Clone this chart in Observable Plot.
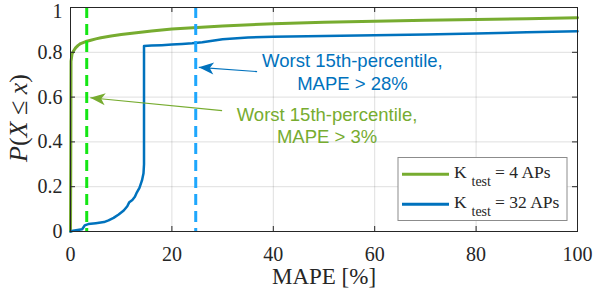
<!DOCTYPE html>
<html><head><meta charset="utf-8">
<script src="https://cdn.jsdelivr.net/npm/d3@7"></script>
<script src="https://cdn.jsdelivr.net/npm/@observablehq/plot@0.6"></script>
<style>body{margin:0;background:#fff} #chart{width:593px;height:292px}</style>
</head><body><div id="chart"></div>
<script>
// ---- data ----
const k4X = [0, 0.05, 0.1, 0.3, 0.6, 1, 1.5, 2, 3, 4, 5, 6, 8, 10, 13, 16, 20, 25, 30, 40, 50, 60, 70, 80, 90, 100];
const k4Y = [0, 0.3, 0.76, 0.792, 0.806, 0.82, 0.831, 0.839, 0.848, 0.854, 0.86, 0.865, 0.873, 0.879, 0.887, 0.895, 0.904, 0.911, 0.917, 0.928, 0.934, 0.939, 0.943, 0.946, 0.95, 0.954];
const k32X = [0, 0.5, 2.3, 2.8, 3.5, 5, 6.6, 7.5, 8.5, 9.5, 10.5, 11.2, 11.6, 12.2, 12.7, 13.1, 13.6, 14.1, 14.4, 14.5, 14.5, 16, 18, 20, 22, 24, 26, 28, 30, 35, 40, 50, 60, 70, 80, 90, 100];
const k32Y = [0, 0.003, 0.01, 0.027, 0.033, 0.037, 0.042, 0.05, 0.061, 0.076, 0.094, 0.113, 0.131, 0.141, 0.155, 0.175, 0.195, 0.228, 0.26, 0.3, 0.828, 0.83, 0.832, 0.835, 0.837, 0.84, 0.845, 0.852, 0.858, 0.866, 0.869, 0.873, 0.876, 0.879, 0.884, 0.889, 0.894];
const xTicks = [0, 20, 40, 60, 80, 100];
const yTicks = [0, 0.2, 0.4, 0.6, 0.8, 1];
const seriesK = ["4", "32"];
const thresholdX = [3.2, 24.7];
const annoText = ["Worst 15th-percentile,\nMAPE > 28%", "Worst 15th-percentile,\nMAPE > 3%"];
const annoX = [55.6, 50.6];
const annoY = [0.716, 0.477];
const arrowTailX = [36.8, 29.9];
const arrowTailY = [0.714, 0.54];
const arrowTipX = [25.3, 3.9];
const arrowTipY = [0.733, 0.597];
const xLabel = "MAPE [%]";

// ---- styles ----
const GREEN = "#77AC30", BLUE = "#0072BD";
const GREEN_DASH = "#14e614", BLUE_DASH = "#1ea7fd";
const AXIS = "#262626";
const W = 593, H = 292, mL = 70, mR = 16, mT = 7, mB = 61;
const innerW = W - mL - mR, innerH = H - mT - mB;
const serif = "'Liberation Serif','Times New Roman',serif";
const sans = "'Liberation Sans',Arial,sans-serif";

const k4 = k4X.map((x, i) => ({x, y: k4Y[i]}));
const k32 = k32X.map((x, i) => ({x, y: k32Y[i]}));
const annos = annoText.map((t, i) => ({t, x: annoX[i], y: annoY[i], c: i === 0 ? BLUE : GREEN}));
const arrows = arrowTipX.map((_, i) => {
  const dx = (arrowTipX[i] - arrowTailX[i]) * innerW / 100;
  const dy = -(arrowTipY[i] - arrowTailY[i]) * innerH;
  return {x1: arrowTailX[i], y1: arrowTailY[i], x2: arrowTipX[i], y2: arrowTipY[i],
          c: i === 0 ? BLUE : GREEN, rot: Math.atan2(dx, -dy) * 180 / Math.PI};
});
const headSymbol = {draw(ctx) {
  ctx.moveTo(0, 0); ctx.lineTo(6, 15); ctx.lineTo(0, 11); ctx.lineTo(-6, 15); ctx.closePath();
}};

const plot = Plot.plot({
  width: W, height: H, marginLeft: mL, marginRight: mR, marginTop: mT, marginBottom: mB,
  style: {fontFamily: serif, fontSize: "20px", color: AXIS, background: "#fff"},
  x: {domain: [0, 100], label: null},
  y: {domain: [0, 1], label: null},
  marks: [
    Plot.gridX(xTicks, {stroke: AXIS, strokeOpacity: 0.15}),
    Plot.gridY(yTicks, {stroke: AXIS, strokeOpacity: 0.15}),
    Plot.axisX(xTicks, {tickSize: 0, tickPadding: 15, label: null, fill: AXIS}),
    Plot.axisY(yTicks.slice(0, -1), {tickSize: 0, tickPadding: 8, label: null, fill: AXIS, tickFormat: d => String(d)}),
    Plot.axisY(yTicks.slice(-1), {tickSize: 0, tickPadding: 8, label: null, fill: AXIS, dy: 4, tickFormat: d => String(d)}),
    Plot.line(k4, {x: "x", y: "y", stroke: GREEN, strokeWidth: 3}),
    Plot.line(k32, {x: "x", y: "y", stroke: BLUE, strokeWidth: 2.5}),
    Plot.ruleX([thresholdX[0]], {stroke: GREEN_DASH, strokeWidth: 3, strokeDasharray: "11,6"}),
    Plot.ruleX([thresholdX[1]], {stroke: BLUE_DASH, strokeWidth: 3, strokeDasharray: "11,6"}),
    Plot.link(arrows, {x1: "x1", y1: "y1", x2: "x2", y2: "y2", stroke: "c", strokeWidth: 1.2}),
    Plot.dot(arrows, {x: "x2", y: "y2", fill: "c", stroke: null, r: 5, symbol: headSymbol, rotate: "rot"}),
    Plot.text(annos, {x: "x", y: "y", text: "t", fill: "c", fontFamily: sans, fontSize: 18.5, lineHeight: 1.243}),
    Plot.frame({stroke: AXIS}),
    Plot.tickX(xTicks, {x: d => d, insetTop: innerH - 5, stroke: AXIS}),
    Plot.tickX(xTicks, {x: d => d, insetBottom: innerH - 5, stroke: AXIS}),
    Plot.tickY(yTicks, {y: d => d, insetRight: innerW - 5, stroke: AXIS}),
    Plot.tickY(yTicks, {y: d => d, insetLeft: innerW - 5, stroke: AXIS}),
    Plot.text([xLabel], {frameAnchor: "bottom", dy: 52, fontSize: 23, fill: AXIS})
  ]
});
document.getElementById("chart").appendChild(plot);

const svg = d3.select(plot);
// y label P(X ≤ x)
const yl = svg.append("text")
  .attr("transform", "translate(27,118) rotate(-90)")
  .attr("text-anchor", "middle").attr("font-family", serif).attr("font-size", 26).attr("fill", AXIS);
yl.append("tspan").attr("font-style", "italic").text("P");
yl.append("tspan").text("(");
yl.append("tspan").attr("font-style", "italic").text("X");
yl.append("tspan").text(" \u2264 ");
yl.append("tspan").attr("font-style", "italic").text("x");
yl.append("tspan").text(")");

// legend
const lg = svg.append("g").attr("font-family", serif).attr("fill", AXIS).attr("text-anchor", "start");
lg.append("rect").attr("x", 398).attr("y", 157.5).attr("width", 169).attr("height", 63)
  .attr("fill", "#fff").attr("stroke", "#8c8c8c").attr("stroke-width", 1);
[GREEN, BLUE].forEach((c, i) => {
  const ly = 174.3 + i * 30, by = 177.7 + i * 30;
  lg.append("line").attr("x1", 402).attr("x2", 449).attr("y1", ly).attr("y2", ly)
    .attr("stroke", c).attr("stroke-width", 3);
  lg.append("text").attr("x", 454).attr("y", by).attr("font-size", 17.5).text("K");
  lg.append("text").attr("x", 471.5).attr("y", by + 8).attr("font-size", 14).text("test");
  lg.append("text").attr("x", 495).attr("y", by).attr("font-size", 17.5).text(`= ${seriesK[i]} APs`);
});
</script></body></html>
